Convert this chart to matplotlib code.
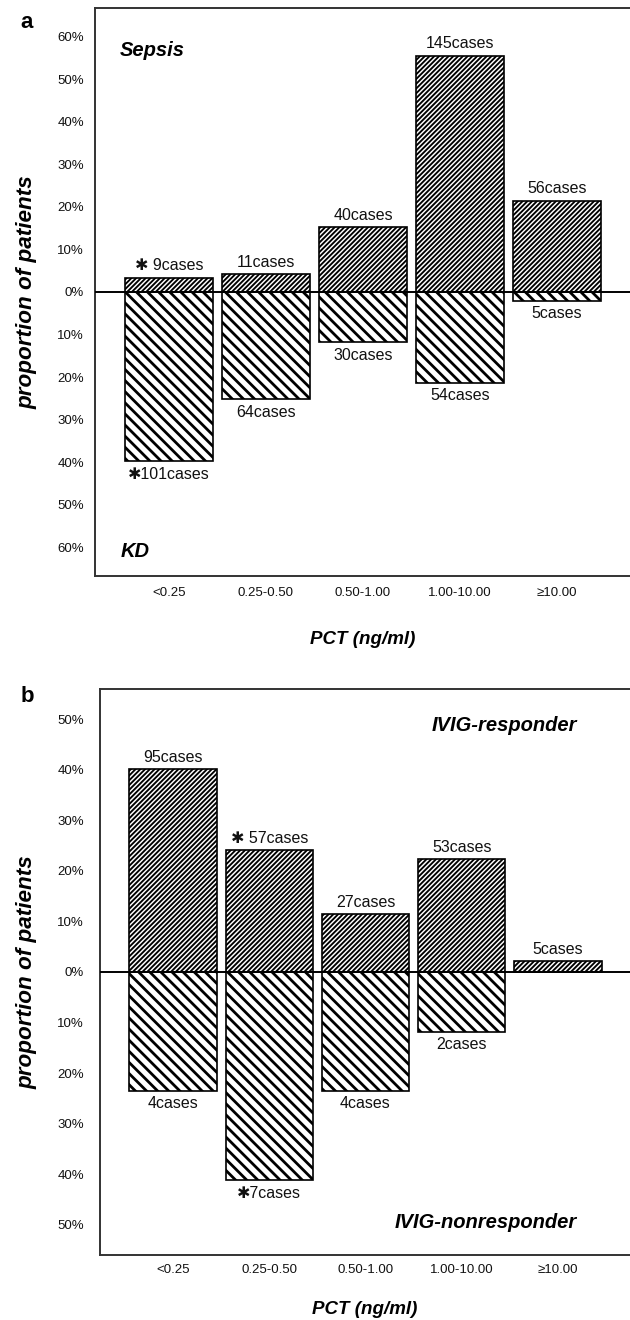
import matplotlib
matplotlib.use("Agg")
import matplotlib.pyplot as plt
from matplotlib.ticker import FuncFormatter
import numpy as np

# ---- data ----
categories = ["<0.25", "0.25-0.50", "0.50-1.00", "1.00-10.00", "\u226510.00"]

# panel a
sepsis_pct = [3.4, 4.2, 15.3, 55.6, 21.5]
sepsis_cases = [9, 11, 40, 145, 56]
sepsis_star = [True, False, False, False, False]
kd_pct = [39.8, 25.2, 11.8, 21.3, 2.0]
kd_cases = [101, 64, 30, 54, 5]
kd_star = [True, False, False, False, False]

# panel b
resp_pct = [40.1, 24.1, 11.4, 22.4, 2.1]
resp_cases = [95, 57, 27, 53, 5]
resp_star = [False, True, False, False, False]
nonresp_pct = [23.5, 41.2, 23.5, 11.8, 0.0]
nonresp_cases = [4, 7, 4, 2, 0]
nonresp_star = [False, True, False, False, False]

FONT = ["Liberation Sans", "DejaVu Sans"]
plt.rcParams["font.family"] = FONT
plt.rcParams["hatch.linewidth"] = 1.7

W, H = 630, 1320
fig = plt.figure(figsize=(W / 100, H / 100), dpi=100)


def ax_rect(left_px, top_px, bottom_px, right_px=630):
    return [left_px / W, 1 - bottom_px / H, (right_px - left_px) / W, (bottom_px - top_px) / H]


def draw_panel(ax, pos, neg, pos_cases, neg_cases, pos_star, neg_star, ylim, yticks,
               top_label, bottom_label, label_x, label_ha, top_y, bot_y,
               ypad, xpad, xlabelpad):
    x = np.arange(len(categories))
    bp = ax.bar(x, pos, width=0.91, color="white", edgecolor="black",
                hatch="///////", linewidth=1.2, zorder=2)
    bn = ax.bar(x, [-v for v in neg], width=0.91, color="white", edgecolor="black",
                hatch="\\\\\\", linewidth=1.2, zorder=2)
    for b in bp:
        if hasattr(b, "set_hatch_linewidth"):
            b.set_hatch_linewidth(1.35)
    for b in bn:
        if hasattr(b, "set_hatch_linewidth"):
            b.set_hatch_linewidth(2.0)
    ax.axhline(0, color="black", linewidth=1.4, zorder=3)

    for i in range(len(categories)):
        if pos_cases[i] > 0:
            s = ("\u2731 " if pos_star[i] else "") + f"{pos_cases[i]}cases"
            ax.annotate(s, (x[i], pos[i]), xytext=(0, 3), textcoords="offset points",
                        ha="center", va="bottom", fontsize=11.5, family=FONT, color="#111111")
        if neg_cases[i] > 0:
            s = ("\u2731" if neg_star[i] else "") + f"{neg_cases[i]}cases"
            ax.annotate(s, (x[i], -neg[i]), xytext=(0, -4), textcoords="offset points",
                        ha="center", va="top", fontsize=11.5, family=FONT, color="#111111")

    ax.set_xlim(-0.76, 4.75)
    ax.set_ylim(-ylim, ylim)
    ax.set_yticks(yticks)
    ax.yaxis.set_major_formatter(FuncFormatter(lambda v, p: f"{abs(int(round(v)))}%"))
    ax.set_xticks(x)
    ax.set_xticklabels(categories)
    ax.tick_params(axis="both", length=0, labelsize=9.5, colors="#111111")
    ax.tick_params(axis="y", pad=ypad)
    ax.tick_params(axis="x", pad=xpad)
    for sp in ["left", "top", "bottom"]:
        ax.spines[sp].set_linewidth(1.4)
        ax.spines[sp].set_color("#333333")
    ax.spines["right"].set_visible(False)

    ax.set_ylabel("proportion of patients", fontsize=16.2, fontweight="bold",
                  fontstyle="italic")
    ax.yaxis.label.set_va("center")
    ax.set_xlabel("PCT (ng/ml)", fontsize=13.5, fontweight="bold", fontstyle="italic",
                  labelpad=xlabelpad)
    ax.text(label_x, top_y, top_label, transform=ax.transData, ha=label_ha, va="center",
            fontsize=14.5, fontweight="bold", fontstyle="italic")
    ax.text(label_x, bot_y, bottom_label, transform=ax.transData, ha=label_ha, va="center",
            fontsize=14.5, fontweight="bold", fontstyle="italic")


ax1 = fig.add_axes(ax_rect(95, 8, 576))
draw_panel(ax1, sepsis_pct, kd_pct, sepsis_cases, kd_cases, sepsis_star, kd_star,
           66.8, np.arange(-60, 61, 10), "Sepsis", "KD", -0.5, "left", 56.7, -61.0,
           8, 8, 23)
ax1.yaxis.set_label_coords(27 / W, 1 - 292 / H, transform=fig.transFigure)

ax2 = fig.add_axes(ax_rect(100, 689, 1255))
draw_panel(ax2, resp_pct, nonresp_pct, resp_cases, nonresp_cases, resp_star, nonresp_star,
           56.0, np.arange(-50, 51, 10), "IVIG-responder", "IVIG-nonresponder", 4.2, "right",
           48.7, -49.5, 11.5, 6.5, 18)
ax2.yaxis.set_label_coords(27 / W, 1 - 972 / H, transform=fig.transFigure)

fig.text(27 / W, 1 - 22 / H, "a", fontsize=16, fontweight="bold", ha="center", va="center")
fig.text(27 / W, 1 - 697 / H, "b", fontsize=16, fontweight="bold", ha="center", va="center")

fig.savefig("out.png", dpi=100)
